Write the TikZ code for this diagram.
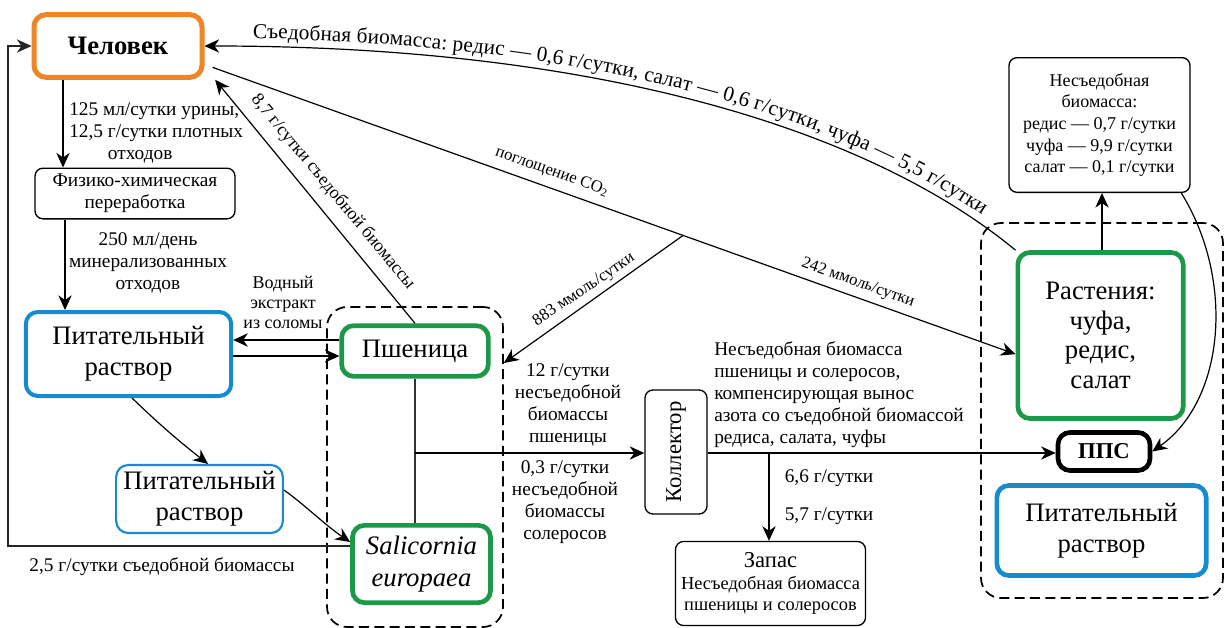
\documentclass[tikz,border=0pt]{standalone}
\usepackage{fontspec}
\usepackage{graphicx}
\setmainfont{Liberation Serif}
\usetikzlibrary{arrows.meta,calc,decorations.text}
\definecolor{cor}{RGB}{238,133,38}
\definecolor{cbl}{RGB}{22,140,206}
\definecolor{cgr}{RGB}{28,152,72}
\newcommand{\szA}{\fontsize{20}{23}\selectfont}
\newcommand{\szB}{\fontsize{14.5}{16.5}\selectfont}
\newcommand{\szC}{\fontsize{13.5}{15.5}\selectfont}
\newcommand{\szD}{\fontsize{12.5}{14}\selectfont}
\newcommand{\szK}{\fontsize{17}{20}\selectfont}
\begin{document}
\begin{tikzpicture}[x=0.75pt,y=-0.75pt,
  arr/.style={line width=0.9pt,-{Stealth[length=11pt,width=10pt,inset=3.5pt]}},
  thinbox/.style={draw,line width=1pt,rounded corners=6pt,align=center,inner sep=1pt},
  thickbox/.style={draw,rounded corners=9pt,align=center,inner sep=1pt},
  grp/.style={draw,line width=1.3pt,dash pattern=on 7.5pt off 4pt,rounded corners=15pt,inner sep=0pt},
  lab/.style={align=center,inner sep=0pt}]
\fill[white] (0,0) rectangle (1225,628);
\useasboundingbox (0,0) rectangle (1225,628);

% groups
\node[grp,minimum width=132pt,minimum height=240pt] (grpL) at (415,467) {};
\node[grp,minimum width=181.5pt,minimum height=281.25pt] (grpR) at (1102,410.5) {};

% nodes
\node[thickbox,draw=cor,line width=3.75pt,minimum width=126pt,minimum height=47pt,font=\bfseries\szA] (chel) at (118,46) {Человек};
\node[thinbox,minimum width=150pt,minimum height=38pt,font=\szB] (fiz) at (135,193.5) {Физико-химическая\\переработка};
\node[thickbox,draw=cbl,line width=3pt,minimum width=154pt,minimum height=63pt,font=\szA] (pit1) at (128.5,354) {Питательный\\раствор};
\node[thickbox,draw=cbl,line width=1.6pt,minimum width=125pt,minimum height=51pt,font=\szA] (pit2) at (199.5,499) {Питательный\\раствор};
\node[thickbox,draw=cgr,line width=3.5pt,minimum width=110pt,minimum height=38pt,font=\szA] (psh) at (415,351) {Пшеница};
\node[thickbox,draw=cgr,line width=3.5pt,minimum width=103.5pt,minimum height=58pt,font=\itshape\fontsize{20}{24}\selectfont] (sal) at (421.5,564) {Salicornia\\europaea};
\node[thinbox,minimum width=46.5pt,minimum height=93pt] (kol) at (676,452) {\rotatebox{90}{\szK Коллектор}};
\node[thinbox,minimum width=142.5pt,minimum height=63pt,font=\fontsize{13.8}{16}\selectfont] (zapas) at (770.5,583.5) {{\szK Запас}\\Несъедобная биомасса\\пшеницы и солеросов};
\node[thinbox,minimum width=135.75pt,minimum height=101pt,font=\fontsize{13.5}{16.2}\selectfont] (nes) at (1099.5,125) {Несъедобная\\биомасса:\\редис — 0,7 г/сутки\\чуфа — 9,9 г/сутки\\салат — 0,1 г/сутки};
\node[thickbox,draw=cgr,line width=3.5pt,minimum width=124pt,minimum height=124.5pt,font=\fontsize{20}{22.3}\selectfont] (ras) at (1100.5,335.5) {Растения:\\чуфа,\\редис,\\салат};
\node[thickbox,draw=black,line width=3.5pt,minimum width=69pt,minimum height=28.5pt,font=\bfseries\szK] (pps) at (1104,451.5) {ППС};
\node[thickbox,draw=cbl,line width=3.5pt,minimum width=157pt,minimum height=67.5pt,font=\szA] (pit3) at (1101.5,530.5) {Питательный\\раствор};

% connectors
\coordinate (xa) at (63,0);
\draw[arr] (chel.south -| xa) -- (fiz.north -| xa);
\coordinate (xb) at (65,0);
\draw[arr] (fiz.south -| xb) -- (pit1.north -| xb);
\coordinate (ya) at (0,340);
\coordinate (yb) at (0,356);
\draw[arr] (psh.west |- ya) -- (pit1.east |- ya);
\draw[arr] (pit1.east |- yb) -- (psh.west |- yb);
\coordinate (xc) at (132,0);
\coordinate (xd) at (208,0);
\draw[arr] (pit1.south -| xc) .. controls (160,425) and (180,442) .. (pit2.north -| xd);
\coordinate (yc) at (0,490);
\coordinate (yd2) at (0,542);
\draw[arr] (pit2.east |- yc) .. controls (305,505) and (325,525) .. (sal.west |- yd2);
\coordinate (yd) at (0,546);
\coordinate (xl) at (8,0);
\draw[arr,black!85] (sal.west |- yd) -- (xl |- yd) -- (xl |- chel.west) -- (chel.west);
\draw[arr] (psh.north) -- ([xshift=8pt]chel.south east);
\draw[arr] (ras.north west) .. controls (870,130) and (600,46) .. (chel.east);
\path[decorate,decoration={text along path,text align=center,raise=6pt,
  text={|\fontsize{16}{18}\selectfont|Съедобная биомасса: редис — 0,6 г/сутки, салат — 0,6 г/сутки, чуфа — 5,5 г/сутки}}]
  (chel.east) .. controls (600,46) and (870,130) .. (ras.north west);
\coordinate (co2s) at ([xshift=6pt,yshift=-16pt]chel.east);
\coordinate (co2e) at ([yshift=-14pt]ras.west);
\draw[arr] (co2s) -- (co2e);
\coordinate (j) at ($(co2s)!0.586!(co2e)$);
\coordinate (ye) at (0,363);
\draw[arr] (j) -- (grpL.east |- ye);
\draw[line width=0.9pt,black!80] (psh.south) -- (psh.south |- sal.north);
\coordinate (yh) at (0,453);
\draw[arr] (psh.south |- yh) -- (kol.west |- yh);
\draw[arr] (kol.east |- yh) -- (pps.west |- yh);
\coordinate (xz) at (769,0);
\draw[arr] (xz |- yh) -- (xz |- zapas.north);
\coordinate (xn) at (1102,0);
\draw[arr] (ras.north -| xn) -- (nes.south -| xn);
\draw[arr] ([xshift=-7pt]nes.south east) .. controls (1235,280) and (1225,400) .. (pps.east);

% labels
\node[lab,font=\szB,align=left,anchor=west] (l1) at (69,133) {125 мл/сутки урины,\\12,5 г/сутки плотных\\\hspace*{29pt}отходов};
\node[lab,font=\szB] (l2) at (148,263) {250 мл/день\\минерализованных\\отходов};
\node[lab,font=\fontsize{13.5}{15}\selectfont] (l3) at (283,302) {Водный\\экстракт\\из соломы};
\node[lab,font=\szC,rotate=-50.4] (l4) at (333,192) {8,7 г/сутки съедобной биомассы};
\node[lab,font=\szD,rotate=-19.8] (l5) at (552,172) {поглощение CO\textsubscript{2}};
\node[lab,font=\szD,rotate=-19.8] (l6) at (858,283) {242 ммоль/сутки};
\node[lab,font=\szD,rotate=34] (l7) at (584,290) {883 ммоль/сутки};
\node[lab,font=\szB] (l8) at (568,405) {12 г/сутки\\несъедобной\\биомассы\\пшеницы};
\node[lab,font=\szB] (l9) at (565,502) {0,3 г/сутки\\несъедобной\\биомассы\\солеросов};
\node[lab,font=\szB,align=left,anchor=west] (l10) at (714,395) {Несъедобная биомасса\\пшеницы и солеросов,\\компенсирующая вынос\\азота со съедобной биомассой\\редиса, салата, чуфы};
\node[lab,font=\szB] (l11) at (829,478) {6,6 г/сутки};
\node[lab,font=\szB] (l12) at (829,516) {5,7 г/сутки};
\node[lab,font=\szB] (l13) at (162,567) {2,5 г/сутки съедобной биомассы};
\end{tikzpicture}
\end{document}
